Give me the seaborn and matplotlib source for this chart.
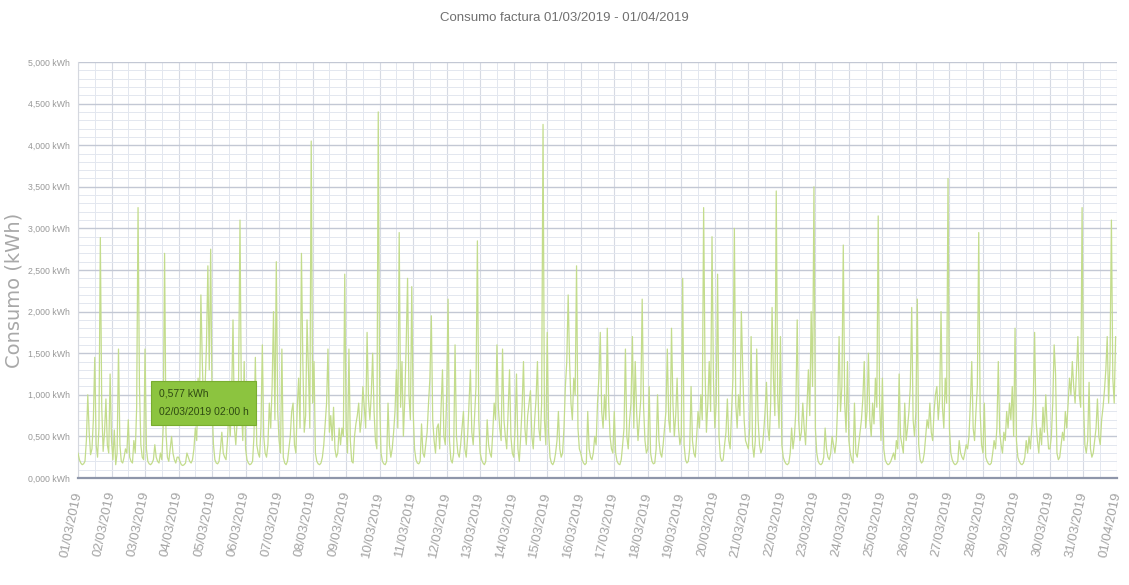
import pandas as pd
import seaborn as sns
import matplotlib.pyplot as plt
import matplotlib.dates as mdates
from matplotlib.ticker import MultipleLocator, FuncFormatter

# consumo horario (kWh), una fila por dia, 24 horas
semana1 = [
    [0.30, 0.22, 0.18, 0.16, 0.17, 0.20, 0.45, 1.00, 0.55, 0.28, 0.35, 0.70, 1.45, 0.40, 0.25, 0.60, 2.89, 0.85, 0.32, 0.55, 0.95, 0.40, 0.30, 1.25],
    [0.45, 0.22, 0.577, 0.16, 0.30, 1.55, 0.40, 0.20, 0.18, 0.25, 0.35, 0.30, 0.70, 0.25, 0.20, 0.18, 0.45, 0.30, 0.85, 3.25, 1.10, 0.40, 0.25, 0.22],
    [1.55, 0.35, 0.20, 0.17, 0.16, 0.18, 0.22, 0.40, 0.25, 0.20, 0.18, 0.30, 0.22, 0.60, 2.70, 0.55, 0.25, 0.20, 0.35, 0.50, 0.30, 0.22, 0.18, 0.25],
    [0.25, 0.20, 0.16, 0.15, 0.16, 0.18, 0.30, 0.25, 0.20, 0.18, 0.22, 0.35, 0.60, 0.45, 1.20, 0.90, 2.20, 1.40, 0.80, 1.10, 1.60, 2.55, 1.30, 2.75],
    [0.90, 0.40, 0.22, 0.18, 0.17, 0.20, 0.35, 0.55, 0.30, 0.25, 0.22, 0.45, 0.80, 0.50, 0.95, 1.90, 0.60, 0.40, 0.70, 1.20, 3.10, 0.85, 0.45, 1.40],
    [0.35, 0.22, 0.18, 0.16, 0.17, 0.20, 0.50, 1.45, 0.40, 0.30, 0.25, 0.60, 1.60, 0.50, 0.30, 0.25, 0.40, 0.90, 0.60, 1.10, 2.00, 0.70, 2.60, 0.80],
    [0.45, 0.30, 1.55, 0.25, 0.18, 0.16, 0.20, 0.35, 0.50, 0.80, 0.90, 0.40, 0.30, 0.85, 1.20, 0.60, 2.70, 1.40, 0.55, 0.75, 1.90, 1.30, 0.60, 4.05],
]
semana2 = [
    [0.90, 1.40, 0.30, 0.20, 0.17, 0.16, 0.18, 0.25, 0.40, 0.65, 0.90, 1.55, 0.55, 0.75, 0.45, 0.85, 0.35, 0.25, 0.30, 0.60, 0.40, 0.60, 0.50, 2.45],
    [0.60, 0.30, 1.55, 0.45, 0.20, 0.18, 0.50, 0.65, 0.75, 0.90, 0.55, 0.70, 1.10, 0.85, 0.60, 1.75, 0.95, 0.70, 1.00, 1.50, 0.80, 0.45, 0.35, 4.40],
    [0.90, 0.30, 0.20, 0.17, 0.16, 0.20, 0.90, 0.40, 0.25, 0.35, 0.55, 0.80, 1.30, 0.60, 2.95, 0.85, 1.40, 0.50, 0.95, 1.60, 2.40, 1.00, 0.70, 2.30],
    [0.80, 0.35, 0.22, 0.18, 0.17, 0.20, 0.65, 0.30, 0.25, 0.40, 0.55, 0.90, 1.20, 1.95, 0.70, 0.45, 0.30, 0.60, 0.65, 0.35, 0.85, 1.30, 0.50, 0.40],
    [1.00, 2.15, 0.45, 0.22, 0.18, 0.30, 1.60, 0.50, 0.30, 0.25, 0.40, 0.60, 0.80, 0.35, 0.25, 0.50, 0.90, 1.30, 0.55, 0.40, 0.75, 1.10, 2.85, 0.70],
    [0.30, 0.22, 0.18, 0.16, 0.20, 0.70, 0.40, 0.30, 0.25, 0.55, 0.90, 0.70, 1.60, 0.85, 0.60, 0.45, 1.55, 0.70, 0.50, 0.35, 0.80, 1.30, 0.50, 0.30],
    [0.25, 0.60, 1.25, 0.35, 0.20, 0.50, 0.85, 1.40, 0.60, 0.40, 0.75, 0.90, 1.05, 0.50, 0.35, 0.70, 0.95, 1.40, 0.60, 0.45, 0.90, 4.25, 0.70, 0.40],
]
semana3 = [
    [1.75, 0.55, 0.25, 0.18, 0.16, 0.20, 0.30, 0.45, 0.80, 0.35, 0.25, 0.30, 0.60, 1.10, 1.40, 2.20, 1.40, 0.90, 0.70, 1.20, 1.00, 2.55, 0.60, 0.35],
    [0.30, 0.22, 0.18, 0.16, 0.18, 0.80, 0.35, 0.25, 0.22, 0.30, 0.50, 0.40, 0.90, 1.20, 1.75, 0.80, 0.60, 1.00, 0.70, 1.80, 0.90, 0.50, 0.35, 0.30],
    [0.80, 0.30, 0.20, 0.17, 0.16, 0.22, 0.40, 0.60, 1.55, 0.50, 0.35, 0.70, 0.90, 1.70, 0.60, 1.40, 0.80, 0.45, 0.70, 0.95, 2.15, 0.85, 0.45, 0.30],
    [0.35, 1.10, 0.30, 0.20, 0.17, 0.18, 0.35, 1.00, 0.45, 0.30, 0.25, 0.40, 0.60, 0.80, 1.55, 0.70, 0.55, 1.80, 0.90, 0.50, 0.75, 1.20, 0.60, 0.40],
    [0.50, 2.40, 0.40, 0.22, 0.18, 0.20, 0.35, 1.10, 0.45, 0.30, 0.25, 0.50, 0.80, 0.60, 1.00, 0.70, 3.25, 1.30, 0.55, 0.90, 1.40, 0.80, 2.90, 1.20],
    [0.60, 0.90, 2.45, 0.50, 0.25, 0.20, 0.22, 0.40, 0.55, 0.95, 0.45, 0.35, 0.80, 1.20, 3.00, 0.90, 0.60, 1.00, 0.75, 2.00, 1.30, 0.70, 0.45, 0.40],
    [0.35, 0.60, 1.70, 0.40, 0.25, 0.45, 1.55, 0.70, 0.40, 0.30, 0.35, 0.55, 0.80, 1.15, 0.60, 0.45, 0.90, 2.05, 1.20, 0.75, 3.45, 1.00, 0.60, 1.70],
]
semana4 = [
    [0.40, 0.25, 0.20, 0.17, 0.16, 0.18, 0.30, 0.60, 0.35, 0.50, 0.80, 1.90, 0.70, 0.45, 0.55, 0.90, 0.60, 0.40, 0.85, 1.30, 0.75, 2.00, 1.10, 3.50],
    [0.60, 0.30, 0.20, 0.17, 0.16, 0.18, 0.25, 0.60, 0.35, 0.25, 0.22, 0.30, 0.50, 0.40, 0.30, 0.45, 0.90, 1.70, 0.80, 1.10, 2.80, 0.90, 0.55, 1.40],
    [0.45, 0.30, 0.22, 0.18, 0.90, 0.30, 0.25, 0.40, 0.55, 0.70, 0.95, 1.40, 0.60, 0.80, 1.50, 0.70, 0.50, 0.90, 0.65, 1.20, 0.85, 3.15, 0.90, 0.45],
    [1.20, 0.35, 0.22, 0.18, 0.16, 0.17, 0.20, 0.25, 0.30, 0.22, 0.45, 0.35, 1.25, 0.50, 0.40, 0.30, 0.90, 0.45, 0.60, 0.80, 1.10, 2.05, 0.70, 0.50],
    [0.80, 2.15, 0.40, 0.22, 0.18, 0.20, 0.30, 0.50, 0.70, 0.60, 0.90, 0.55, 0.45, 0.80, 1.00, 1.10, 0.70, 0.95, 2.00, 0.85, 0.60, 1.20, 0.90, 3.60],
    [0.60, 0.30, 0.22, 0.18, 0.16, 0.17, 0.20, 0.45, 0.30, 0.25, 0.22, 0.30, 0.40, 0.35, 0.50, 0.90, 1.40, 0.60, 0.45, 0.80, 1.10, 2.95, 0.80, 0.40],
    [0.30, 0.90, 0.25, 0.20, 0.17, 0.16, 0.18, 0.30, 0.45, 0.35, 0.60, 1.40, 0.55, 0.40, 0.30, 0.55, 0.45, 0.80, 0.60, 0.90, 0.70, 1.10, 0.50, 1.80],
]
semana5 = [
    [0.45, 0.25, 0.20, 0.17, 0.16, 0.18, 0.25, 0.45, 0.30, 0.50, 0.35, 0.60, 0.90, 1.75, 0.70, 0.45, 0.30, 0.60, 0.40, 0.85, 0.55, 1.00, 0.60, 0.35],
    [0.35, 0.50, 0.90, 1.60, 1.25, 0.30, 0.22, 0.25, 0.40, 0.55, 0.45, 0.80, 0.60, 0.90, 1.20, 1.00, 1.40, 1.10, 0.90, 1.30, 1.70, 1.00, 0.85, 3.25],
    [0.90, 0.40, 0.30, 0.45, 1.15, 0.35, 0.25, 0.30, 0.45, 0.60, 0.95, 0.50, 0.40, 0.70, 0.85, 1.05, 1.30, 1.70, 0.90, 1.40, 3.10, 1.20, 0.90, 1.70],
]

inicio = '2019-03-01'
fin = '2019-04-01'
titulo = 'Consumo factura 01/03/2019 - 01/04/2019'
tooltip_valor = '0,577 kWh'
tooltip_fecha = '02/03/2019 02:00 h'
tooltip_hora = '2019-03-02 02:00'

valores = [v for semana in (semana1, semana2, semana3, semana4, semana5) for dia in semana for v in dia]
df = pd.DataFrame({'Hora': pd.date_range(inicio, periods=len(valores), freq='h'),
                   'Consumo': valores})

sns.set_style('white')
plt.rcParams['font.family'] = ['Liberation Sans', 'DejaVu Sans']

fig = plt.figure(figsize=(11.29, 5.85), dpi=100)
ax = fig.add_axes([78/1129, 1 - 478/585, (1117 - 78)/1129, (478 - 62)/585])

sns.lineplot(data=df, x='Hora', y='Consumo', color='#c3dc8c', linewidth=0.9, ax=ax, zorder=3)

ax.set_xlim(pd.Timestamp(inicio), pd.Timestamp(fin))
ax.set_ylim(0, 5)

# rejilla
ax.yaxis.set_major_locator(MultipleLocator(0.5))
ax.yaxis.set_minor_locator(MultipleLocator(0.1))
ax.xaxis.set_major_locator(mdates.DayLocator())
ax.xaxis.set_minor_locator(mdates.HourLocator(byhour=[12]))
ax.xaxis.set_major_formatter(mdates.DateFormatter('%d/%m/%Y'))
ax.yaxis.set_major_formatter(FuncFormatter(lambda v, p: f'{v:.3f}'.replace('.', ',') + ' kWh'))

ax.grid(which='major', axis='y', color='#c3c8d4', linewidth=1.0)
ax.grid(which='minor', axis='y', color='#e3e7ef', linewidth=0.7)
ax.grid(which='major', axis='x', color='#d6dae3', linewidth=0.8)
ax.grid(which='minor', axis='x', color='#e3e7ef', linewidth=0.7)
ax.set_axisbelow(True)

for s in ['top', 'right']:
    ax.spines[s].set_visible(False)
ax.spines['left'].set_color('#d5d8df')
ax.spines['bottom'].set_color('#8e96aa')
ax.spines['bottom'].set_linewidth(1.6)

ax.tick_params(axis='y', which='major', length=4, color='#b8b8b8', labelsize=6.3, labelcolor='#999999', pad=2)
ax.tick_params(axis='x', which='major', length=6, color='#c8ccd6', labelsize=9.5, labelcolor='#a3a3a3', pad=4)
ax.tick_params(which='minor', length=0)
for lab in ax.get_xticklabels():
    lab.set_rotation(78)
    lab.set_ha('right')
    lab.set_va('center')
    lab.set_rotation_mode('anchor')

ax.set_xlabel('')
ax.set_ylabel('')
fig.text(14/1129, 1 - 290/585, 'Consumo (kWh)', rotation=90, ha='center', va='center',
         fontsize=14, color='#a8a8a8', family=['DejaVu Sans'])

fig.text(0.5, 1 - 18/585, titulo, ha='center', va='center', fontsize=9.5, color='#707070')

# tooltip
punto = df.loc[df['Hora'] == pd.Timestamp(tooltip_hora)].iloc[0]
ax.annotate(tooltip_valor + '\n' + tooltip_fecha, xy=(punto['Hora'], punto['Consumo']),
            xytext=(32, 9), textcoords='offset points', ha='left', va='bottom',
            fontsize=7.5, color='#2f4a12', linespacing=2.1, zorder=5,
            bbox=dict(boxstyle='square,pad=0.75', fc='#8cc43f', ec='#79ad30', lw=0.8))

plt.savefig('out.png', dpi=100)
